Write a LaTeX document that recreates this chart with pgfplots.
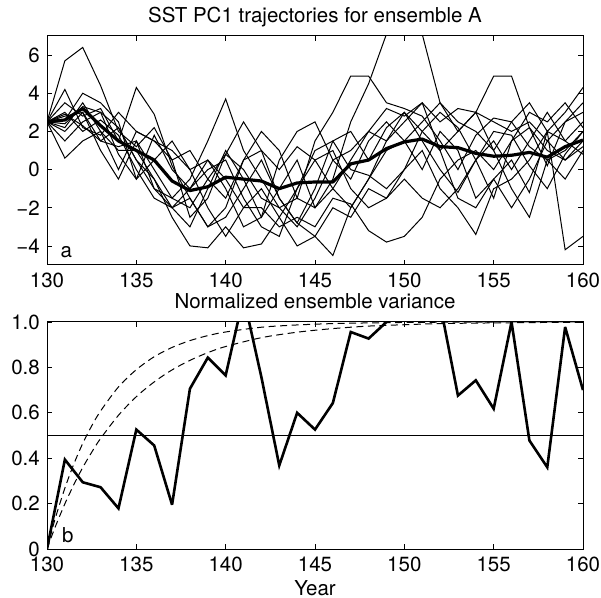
\documentclass[border=0pt]{standalone}
\usepackage{pgfplots}
\pgfplotsset{compat=1.18}
\usepackage{fontspec}
\setmainfont{TeX Gyre Heros}
\begin{document}
\fontsize{20.5bp}{24bp}\selectfont
\begin{tikzpicture}
\path[use as bounding box] (0bp,0bp) rectangle (601bp,598bp);
\pgfplotsset{
  myax/.style={
    scale only axis, width=536bp,
    xmin=130, xmax=160, xtick={130,135,...,160},
    tick align=inside, major tick length=5bp,
    axis line style={line width=1bp}, every tick/.style={black,line width=0.8bp},
    xticklabel style={anchor=north, inner sep=0pt, yshift=-8bp},
    yticklabel style={anchor=east, inner sep=0pt, xshift=-7bp},
    title style={at={(0.5,1)}, anchor=base, yshift=8bp, inner sep=0pt},
    /pgf/number format/assume math mode=true,
    font=\fontsize{20.5bp}{24bp}\selectfont,
  },
  thin/.style={black, line width=1bp, line join=miter, no marks},
}
\begin{axis}[myax, at={(47bp,333bp)}, anchor=south west, height=229bp,
  ymin=-5, ymax=7, ytick={-4,-2,0,2,4,6}, yticklabels={−4,−2,0,2,4,6},
  title={SST PC1 trajectories for ensemble A}]
\addplot[thin] table {
130 2.5
131 5.7
132 6.4
133 4.4
134 2.0
135 1.2
136 2.2
137 0.5
138 -2.5
139 -1.5
140 0.8
141 2.5
142 1.0
143 -1.5
144 -2.8
145 -1.0
146 1.5
147 2.0
148 0.5
149 2.2
150 3.0
151 1.5
152 0.0
153 -1.2
154 0.5
155 2.0
156 1.8
157 0.2
158 -1.0
159 0.8
160 2.0
};
\addplot[thin] table {
130 2.5
131 2.0
132 3.0
133 1.5
134 2.2
135 0.5
136 -1.0
137 -2.0
138 -3.0
139 -1.0
140 1.0
141 -0.5
142 -2.5
143 -1.0
144 0.5
145 -2.0
146 -0.5
147 2.5
148 4.5
149 7.1
150 7.1
151 7.1
152 3.5
153 2.0
154 3.0
155 1.0
156 -1.0
157 -2.5
158 0.5
159 1.0
160 2.0
};
\addplot[thin] table {
130 2.5
131 3.5
132 2.8
133 3.2
134 1.5
135 4.3
136 2.9
137 0.2
138 -1.5
139 -3.0
140 -2.0
141 0.5
142 2.0
143 1.0
144 -1.5
145 1.5
146 3.0
147 4.9
148 4.9
149 3.5
150 3.2
151 2.8
152 1.5
153 0.0
154 1.8
155 2.7
156 2.5
157 1.2
158 0.5
159 -0.5
160 1.0
};
\addplot[thin] table {
130 2.5
131 2.8
132 3.0
133 1.0
134 -0.5
135 1.5
136 0.0
137 -1.5
138 -0.5
139 1.5
140 3.7
141 1.0
142 -0.5
143 -2.0
144 -3.0
145 -1.5
146 0.5
147 1.0
148 2.0
149 3.2
150 2.8
151 3.5
152 2.5
153 3.2
154 3.0
155 4.9
156 4.9
157 2.2
158 0.2
159 2.5
160 3.5
};
\addplot[thin] table {
130 2.5
131 3.0
132 2.0
133 2.6
134 1.8
135 0.0
136 -1.5
137 -2.0
138 -1.0
139 0.5
140 -0.5
141 -2.0
142 -2.0
143 -3.0
144 -2.5
145 -3.0
146 -1.5
147 -1.8
148 -3.2
149 -3.8
150 -3.5
151 -2.5
152 -0.5
153 0.5
154 1.0
155 0.0
156 1.5
157 2.2
158 1.0
159 0.5
160 1.2
};
\addplot[thin] table {
130 2.5
131 1.5
132 2.5
133 3.0
134 2.2
135 0.5
136 -0.5
137 -2.0
138 -1.5
139 -3.0
140 -2.5
141 -1.0
142 0.5
143 -1.5
144 -2.8
145 -3.5
146 -4.5
147 -2.0
148 -0.5
149 1.0
150 1.5
151 0.0
152 2.0
153 1.0
154 -1.5
155 -0.5
156 0.5
157 -1.2
158 2.0
159 1.5
160 0.8
};
\addplot[thin] table {
130 2.5
131 2.2
132 3.5
133 2.0
134 1.0
135 1.0
136 -0.5
137 -2.5
138 -4.0
139 -4.1
140 -3.0
141 -4.1
142 -3.9
143 -2.5
144 -1.0
145 0.5
146 -1.0
147 -2.0
148 -0.5
149 1.5
150 2.5
151 3.5
152 1.0
153 -1.5
154 -2.0
155 -0.5
156 -2.0
157 -0.5
158 1.5
159 0.5
160 1.5
};
\addplot[thin] table {
130 2.5
131 0.6
132 1.5
133 2.0
134 0.0
135 2.0
136 1.5
137 0.5
138 1.0
139 -0.5
140 -1.5
141 0.5
142 1.0
143 0.0
144 1.2
145 0.5
146 1.0
147 -1.0
148 -2.0
149 -1.5
150 0.0
151 1.0
152 -1.0
153 -2.0
154 -3.4
155 -1.0
156 -0.5
157 0.5
158 2.0
159 -4.2
160 -3.5
};
\addplot[thin] table {
130 2.5
131 4.2
132 2.2
133 1.8
134 3.0
135 2.0
136 1.5
137 1.0
138 0.0
139 0.5
140 -1.0
141 -3.0
142 -2.5
143 0.5
144 2.0
145 2.5
146 0.5
147 -0.5
148 1.5
149 2.5
150 1.5
151 2.5
152 3.5
153 2.5
154 2.0
155 1.0
156 2.5
157 3.5
158 2.0
159 3.0
160 4.3
};
\addplot[thin] table {
130 2.5
131 2.6
132 4.0
133 3.5
134 2.5
135 -0.5
136 0.5
137 1.5
138 0.0
139 -2.0
140 -3.5
141 -2.0
142 -1.0
143 -2.5
144 -4.0
145 -3.5
146 -2.0
147 -2.5
148 -1.0
149 -1.5
150 -0.5
151 -1.5
152 -2.0
153 -1.0
154 0.5
155 1.5
156 0.0
157 1.5
158 3.0
159 1.5
160 2.5
};
\addplot[thin] table {
130 2.5
131 2.4
132 3.3
133 3.0
134 0.8
135 -0.5
136 1.8
137 0.0
138 -1.0
139 0.0
140 0.5
141 -1.5
142 -3.0
143 -3.5
144 -1.0
145 1.0
146 1.5
147 0.0
148 -0.3
149 -1.0
150 0.0
151 2.0
152 3.0
153 2.2
154 0.5
155 -1.5
156 1.5
157 3.0
158 2.5
159 3.5
160 2.2
};
\addplot[thin] table {
130 2.5
131 2.9
132 2.3
133 1.5
134 1.2
135 1.5
136 -1.0
137 -1.5
138 -2.0
139 -0.5
140 0.8
141 0.0
142 -1.5
143 -2.0
144 -1.5
145 -2.0
146 -1.0
147 0.5
148 2.0
149 1.5
150 3.0
151 2.0
152 1.0
153 2.0
154 3.0
155 2.5
156 2.0
157 2.5
158 1.5
159 2.5
160 3.0
};
\addplot[black, line width=3.2bp, line join=round, no marks] table {
130 2.5
131 2.6
132 3.2
133 2.3
134 1.5
135 1.0
136 0.5
137 -0.6
138 -1.1
139 -0.9
140 -0.4
141 -0.5
142 -0.6
143 -1.0
144 -0.7
145 -0.65
146 -0.65
147 0.3
148 0.5
149 1.1
150 1.45
151 1.6
152 1.2
153 1.15
154 0.85
155 0.7
156 0.75
157 0.9
158 0.65
159 1.2
160 1.55
};
\node[anchor=base west, inner sep=0pt] at (axis cs:130.75,-4.6) {a};
\end{axis}
\begin{axis}[myax, at={(47bp,49bp)}, anchor=south west, height=227bp,
  ymin=0, ymax=1, ytick={0,0.2,0.4,0.6,0.8,1.0}, yticklabels={0,0.2,0.4,0.6,0.8,1.0},
  title={Normalized ensemble variance},
  xlabel={Year}, xlabel style={at={(0.5,0)}, anchor=base, yshift=-46bp, inner sep=0pt}]
\addplot[black, line width=0.9bp, no marks] coordinates {(130,0.5) (160,0.5)};
\addplot[black, line width=1bp, dash pattern=on 7bp off 4.5bp, smooth, no marks] table {
130 0
130.25 0.075
130.5 0.145
131 0.268
131.5 0.374
132 0.465
132.5 0.542
133 0.608
134 0.714
135 0.790
136 0.847
137 0.888
138 0.918
139 0.940
140 0.956
142 0.977
144 0.987
146 0.993
148 0.996
150 0.998
152 0.999
155 1.0
160 1.0
};
\addplot[black, line width=1bp, dash pattern=on 7bp off 4.5bp, smooth, no marks] table {
130 0
130.25 0.054
130.5 0.105
131 0.199
131.5 0.283
132 0.359
132.5 0.426
133 0.487
134 0.589
135 0.671
136 0.736
137 0.789
138 0.831
139 0.865
140 0.892
142 0.931
144 0.955
146 0.971
148 0.982
150 0.988
152 0.993
155 0.996
158 0.998
160 0.999
};
\addplot[black, line width=2.6bp, line join=miter, miter limit=4, no marks] table {
130 0
131 0.394
132 0.294
133 0.272
134 0.179
135 0.526
136 0.456
137 0.195
138 0.706
139 0.843
140 0.765
141 1.11
142 0.757
143 0.368
144 0.600
145 0.526
146 0.643
147 0.956
148 0.927
149 1.0
150 1.15
151 1.12
152 1.08
153 0.676
154 0.743
155 0.618
156 1.0
157 0.478
158 0.360
159 0.978
160 0.700
};
\node[anchor=base west, inner sep=0pt] at (axis cs:130.83,0.03) {b};
\end{axis}
\end{tikzpicture}
\end{document}
